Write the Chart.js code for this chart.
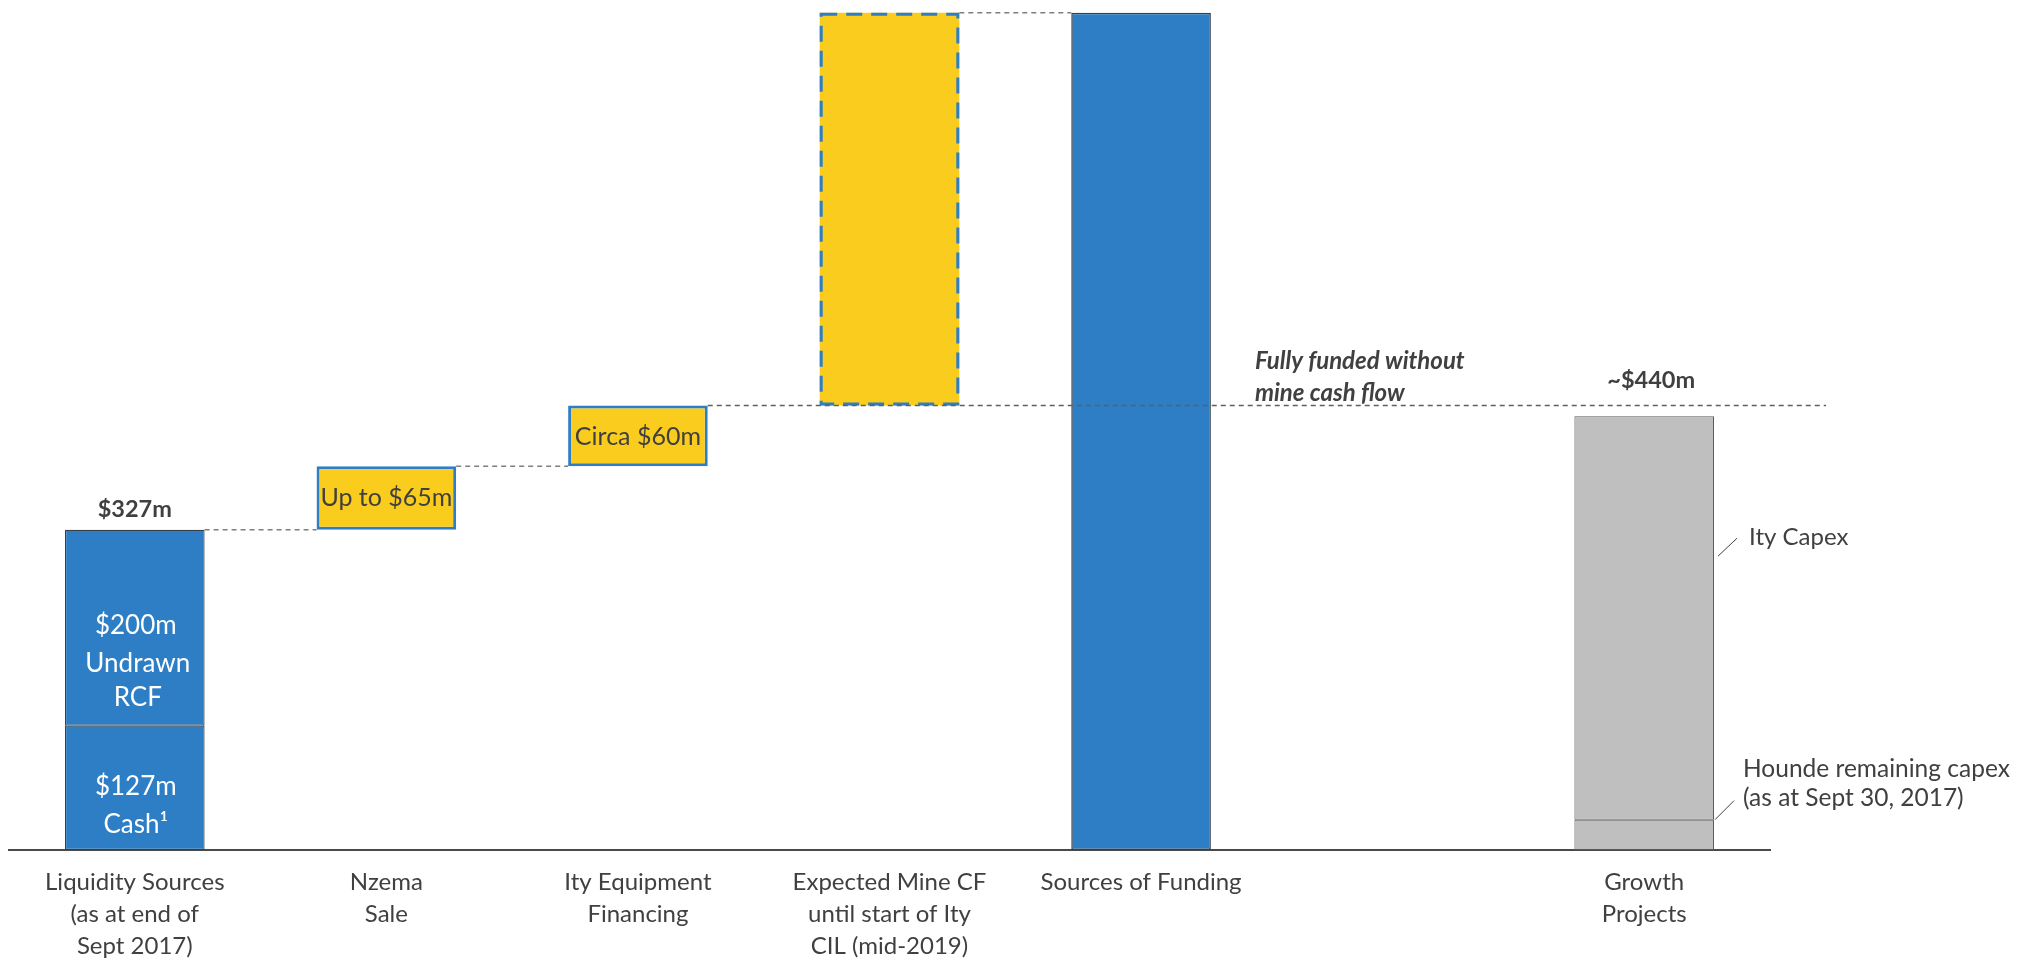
<!DOCTYPE html>
<html>
<head>
<meta charset="utf-8">
<script src="https://cdn.jsdelivr.net/npm/chart.js@4.4.1/dist/chart.umd.min.js"></script>
<style>
  html, body { margin: 0; padding: 0; background: #fff; }
  #wrap { width: 2018px; height: 959px; }
</style>
</head>
<body>
<div id="wrap"><canvas id="myChart" width="2018" height="959"></canvas></div>
<script>
const categories = [
  ["Liquidity Sources", "(as at end of", "Sept 2017)"],
  ["Nzema", "Sale"],
  ["Ity Equipment", "Financing"],
  ["Expected Mine CF", "until start of Ity", "CIL (mid-2019)"],
  ["Sources of Funding"],
  [""],
  ["Growth", "Projects"]
];
// $m
const liquidityParts = [127, 200];   // cash, undrawn RCF
const fundingSteps = [65, 62, 401];  // Nzema sale, Ity equipment, expected mine CF
const sourcesOfFunding = [855];
const growthParts = [31, 412];       // Hounde remaining capex, Ity capex
const stepLabels = ["Up to $65m", "Circa $60m"];

const BLUE = "#2E7EC6";
const YELLOW = "#F9CC1E";
const GREY = "#BFBFBF";
const TEXT = "#404040";
const FONT = "Lato, 'Open Sans', sans-serif";

function slot(index, range) {
  const arr = categories.map(() => null);
  arr[index] = range;
  return arr;
}

const liquidityTotal = liquidityParts[0] + liquidityParts[1];
let running = liquidityTotal;
const stepRanges = fundingSteps.map((v) => {
  const r = [running, running + v];
  running += v;
  return r;
});
const growthTotal = growthParts[0] + growthParts[1];

const ctx = document.getElementById("myChart");

const common = {
  grouped: false,
  borderSkipped: false,
  barPercentage: 0.555,
  categoryPercentage: 1
};

const datasets = [
  { label: "Cash", data: slot(0, [0, liquidityParts[0]]), backgroundColor: BLUE, borderColor: "#36404A", borderWidth: 1.2 },
  { label: "Undrawn RCF", data: slot(0, [liquidityParts[0], liquidityTotal]), backgroundColor: BLUE, borderColor: "#36404A", borderWidth: 1.2 },
  { label: "Steps", data: [null, stepRanges[0], stepRanges[1], null, null, null, null], backgroundColor: YELLOW, borderColor: BLUE, borderWidth: 3 },
  { label: "Mine CF", data: slot(3, stepRanges[2]), backgroundColor: YELLOW, borderWidth: 0 },
  { label: "Sources of Funding", data: slot(4, [0, sourcesOfFunding[0]]), backgroundColor: BLUE, borderColor: "#36404A", borderWidth: 1.5 },
  { label: "Hounde", data: slot(6, [0, growthParts[0]]), backgroundColor: GREY, borderColor: "#595959", borderWidth: 1 },
  { label: "Ity Capex", data: slot(6, [growthParts[0], growthTotal]), backgroundColor: GREY, borderColor: "#595959", borderWidth: 1 }
].map((d) => Object.assign({}, common, d));

function edges(el) {
  return {
    left: el.x - el.width / 2,
    right: el.x + el.width / 2,
    top: Math.min(el.y, el.base),
    bottom: Math.max(el.y, el.base),
    x: el.x
  };
}

const annotations = {
  id: "annotations",
  afterDatasetsDraw(chart) {
    const c = chart.ctx;
    const y = chart.scales.y;
    const bar = (d, i) => edges(chart.getDatasetMeta(d).data[i]);

    const cash = bar(0, 0), rcf = bar(1, 0), nz = bar(2, 1), ity = bar(2, 2);
    const mine = bar(3, 3), src = bar(4, 4), hou = bar(5, 6), cap = bar(6, 6);

    c.save();
    // dashed outline on the mine cash flow box
    c.strokeStyle = BLUE;
    c.lineWidth = 3;
    c.setLineDash([16, 9]);
    c.strokeRect(mine.left + 1.5, mine.top + 1.5, mine.right - mine.left - 3, mine.bottom - mine.top - 3);

    // connectors
    c.strokeStyle = "#7F7F7F";
    c.lineWidth = 1.5;
    c.setLineDash([5, 4]);
    function dash(x1, x2, yy) {
      c.beginPath();
      c.moveTo(x1, yy);
      c.lineTo(x2, yy);
      c.stroke();
    }
    dash(rcf.right, nz.left, y.getPixelForValue(stepRanges[0][0]));
    dash(nz.right, ity.left, y.getPixelForValue(stepRanges[1][0]));
    dash(mine.right, src.left, y.getPixelForValue(stepRanges[2][1]));
    c.strokeStyle = "#5F5F5F";
    dash(ity.right, cap.right + 112, y.getPixelForValue(stepRanges[2][0]));
    c.setLineDash([]);

    function text(str, x, yy, font, color, align) {
      c.font = font;
      c.fillStyle = color;
      c.textAlign = align || "center";
      c.textBaseline = "middle";
      c.fillText(str, x, yy);
    }

    // liquidity
    text("$" + liquidityTotal + "m", cash.x, rcf.top - 20, "bold 23.5px " + FONT, TEXT);
    const rMid = (rcf.top + rcf.bottom) / 2;
    text("$" + liquidityParts[1] + "m", cash.x + 1, rMid - 2, "26px " + FONT, "#fff");
    text("Undrawn", cash.x + 3, rMid + 36, "26px " + FONT, "#fff");
    text("RCF", cash.x + 3, rMid + 70, "26px " + FONT, "#fff");
    const cMid = (cash.top + cash.bottom) / 2;
    text("$" + liquidityParts[0] + "m", cash.x + 1, cMid - 1, "26px " + FONT, "#fff");
    text("Cash\u00B9", cash.x + 1, cMid + 37, "26px " + FONT, "#fff");

    // step boxes
    text(stepLabels[0], nz.x, (nz.top + nz.bottom) / 2, "25px " + FONT, TEXT);
    text(stepLabels[1], ity.x, (ity.top + ity.bottom) / 2 + 1, "25px " + FONT, TEXT);

    // fully funded note
    const ffY = y.getPixelForValue(stepRanges[2][0]);
    text("Fully funded without", src.right + 44, ffY - 44, "italic bold 24px " + FONT, TEXT, "left");
    text("mine cash flow", src.right + 44, ffY - 12, "italic bold 24px " + FONT, TEXT, "left");

    // growth projects
    text("~$440m", cap.x + 7, cap.top - 36, "bold 23.5px " + FONT, TEXT);
    c.strokeStyle = "#404040";
    c.lineWidth = 1;
    c.beginPath();
    c.moveTo(cap.right + 4, cap.top + 140);
    c.lineTo(cap.right + 23, cap.top + 122);
    c.moveTo(hou.right + 1, hou.top);
    c.lineTo(hou.right + 20, hou.top - 19);
    c.stroke();
    text("Ity Capex", cap.right + 35, cap.top + 121, "24px " + FONT, TEXT, "left");
    text("Hounde remaining capex", hou.right + 29, hou.top - 51, "24.5px " + FONT, TEXT, "left");
    text("(as at Sept 30, 2017)", hou.right + 29, hou.top - 22, "24.5px " + FONT, TEXT, "left");
    c.restore();
  }
};

const myChart = new Chart(ctx, {
  type: "bar",
  data: { labels: categories, datasets: datasets },
  options: {
    responsive: false,
    animation: false,
    layout: { padding: { left: 9, right: 248, top: 0, bottom: 0 } },
    plugins: { legend: { display: false }, tooltip: { enabled: false } },
    scales: {
      x: {
        grid: { display: false, drawTicks: false },
        border: { display: true, color: "#4A4A4A", width: 2 },
        ticks: {
          autoSkip: false,
          maxRotation: 0,
          padding: 16,
          color: TEXT,
          font: { family: FONT, size: 24, lineHeight: 1.333 }
        },
        afterFit: function (scale) {
          scale.height = 109;
        }
      },
      y: { display: false, min: 0, max: 868 }
    }
  },
  plugins: [annotations]
});
</script>
</body>
</html>
